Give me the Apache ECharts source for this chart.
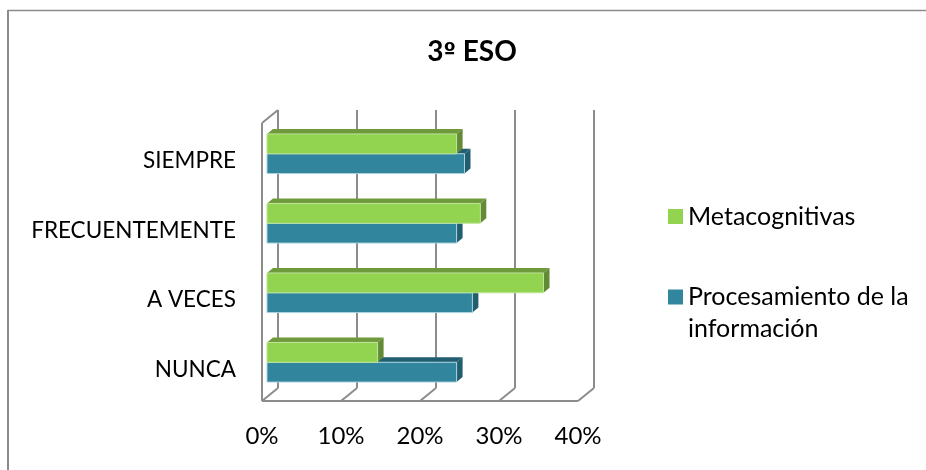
<!DOCTYPE html>
<html><head><meta charset="utf-8">
<script src="https://cdn.jsdelivr.net/npm/echarts@6/dist/echarts.min.js"></script>
<style>html,body{margin:0;padding:0;background:#fff}#c{width:926px;height:470px}</style>
</head><body><div id="c"></div>
<script>
const categories = ['NUNCA', 'A VECES', 'FRECUENTEMENTE', 'SIEMPRE'];
const metacognitivas = [14, 35, 27, 24];
const procesamiento = [24, 26, 24, 25];
const xTicks = [0, 10, 20, 30, 40];
const seriesNames = ['Metacognitivas', 'Procesamiento de la\ninformación'];

const FONT = 'Lato, "Open Sans", sans-serif';
const WALL = '#8c8c8c';
const DX = 16, DY = 13;       // plot depth
const BX = 6, BY = 5;         // bar depth
const OX = 5, OY = -4;        // bar plane offset from front plane

function bar3d(colors, sign) {
  return function (params, api) {
    const c = api.coord([api.value(0), api.value(1)]);
    const o = api.coord([0, api.value(1)]);
    const band = api.size([0, 1])[1];
    const h = band * 0.285;
    const x0 = o[0] + OX, x1 = c[0] + OX;
    const y0 = c[1] + OY + (sign < 0 ? -h : 0), y1 = y0 + h;
    return { type: 'group', children: [
      { type: 'polygon', shape: { points: [[x0, y0], [x0 + BX, y0 - BY], [x1 + BX, y0 - BY], [x1, y0]] }, style: { fill: colors.top } },
      { type: 'polygon', shape: { points: [[x1, y0], [x1 + BX, y0 - BY], [x1 + BX, y1 - BY], [x1, y1]] }, style: { fill: colors.side } },
      { type: 'rect', shape: { x: x0, y: y0, width: x1 - x0, height: h }, style: { fill: colors.front, stroke: colors.edge, lineWidth: 1 } }
    ]};
  };
}

function wallItem(params, api) {
  const r = params.coordSys;
  const x = api.coord([api.value(0), 0])[0];
  const top = r.y, bot = r.y + r.height;
  const ln = (a, b, c, d) => ({ type: 'line', shape: { x1: a, y1: b, x2: c, y2: d }, style: { stroke: WALL, lineWidth: 2 } });
  const kids = [
    ln(x + DX, top - DY, x + DX, bot - DY),
    ln(x, bot, x + DX, bot - DY)
  ];
  if (api.value(0) === 0) {
    kids.push(ln(x, top, x, bot));
    kids.push(ln(x, top, x + DX, top - DY));
    kids.push(ln(x, bot, x + r.width, bot));
  }
  return { type: 'group', children: kids };
}

const chart = echarts.init(document.getElementById('c'), null, { renderer: 'canvas' });
chart.setOption({
  animation: false,
  backgroundColor: '#fff',
  title: { text: '{a|3}{b|º}{a| ESO}', left: 467, top: 33, textAlign: 'center',
    textStyle: { rich: {
      a: { fontFamily: FONT, fontSize: 28, fontWeight: 'bold', color: '#000' },
      b: { fontFamily: 'DejaVu Sans', fontSize: 22, fontWeight: 'bold', color: '#000' } } } },
  grid: { left: 262, top: 123, width: 316, height: 278, containLabel: false },
  xAxis: { type: 'value', min: 0, max: 40, interval: 10,
    axisLine: { show: false }, axisTick: { show: false }, splitLine: { show: false },
    axisLabel: { margin: 23, fontFamily: FONT, fontSize: 24, color: '#000', formatter: '{value}%' } },
  yAxis: { type: 'category', data: categories,
    axisLine: { show: false }, axisTick: { show: false }, splitLine: { show: false },
    axisLabel: { margin: 26, color: '#000', formatter: '{a|{value}}',
      rich: { a: { fontFamily: FONT, fontSize: 22.5, color: '#000', padding: [6, 0, 0, 0] } } } },
  legend: { orient: 'vertical', left: 668, top: 200.5, itemWidth: 15, itemHeight: 15, itemGap: 16.5, padding: 0,
    selectedMode: false, icon: 'rect',
    formatter: function (name) { return name.indexOf('\n') >= 0 ? '\n' + name : name; },
    textStyle: { fontFamily: FONT, fontSize: 25, color: '#000', lineHeight: 32 },
    data: [ { name: seriesNames[0] }, { name: seriesNames[1] } ] },
  graphic: [
    { type: 'line', shape: { x1: 8, y1: 470, x2: 8, y2: 10 }, style: { stroke: '#8c8c8c', lineWidth: 2 } },
    { type: 'line', shape: { x1: 8, y1: 10.5, x2: 926, y2: 10.5 }, style: { stroke: '#8c8c8c', lineWidth: 1.5 } }
  ],
  series: [
    { type: 'custom', name: 'walls', silent: true, z: 1, renderItem: wallItem,
      encode: { x: 0 }, data: xTicks.map(v => [v]) },
    { type: 'custom', name: seriesNames[1], z: 2, itemStyle: { color: '#31859C' },
      renderItem: bar3d({ front: '#31859C', top: '#215F70', side: '#215F70', edge: '#A9D3E0' }, 1),
      encode: { x: 0, y: 1 }, data: procesamiento.map((v, i) => [v, i]) },
    { type: 'custom', name: seriesNames[0], z: 3, itemStyle: { color: '#92D350' },
      renderItem: bar3d({ front: '#92D350', top: '#6F9A3C', side: '#638A35', edge: '#BFE39B' }, -1),
      encode: { x: 0, y: 1 }, data: metacognitivas.map((v, i) => [v, i]) }
  ]
});
</script></body></html>
